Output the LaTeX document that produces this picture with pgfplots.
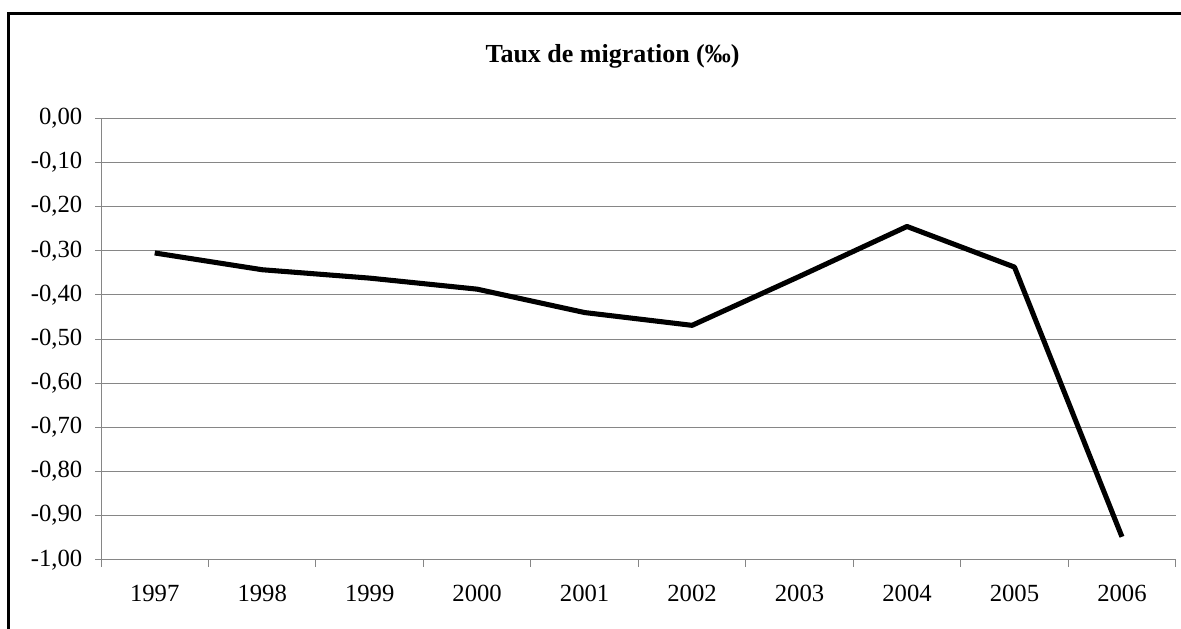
\documentclass[border=0pt]{standalone}
\usepackage{pgfplots}
\pgfplotsset{compat=1.18}
\usepackage{fontspec}
\setmainfont{Liberation Serif}
\definecolor{gridgray}{RGB}{134,134,134}
\begin{document}
\begin{tikzpicture}
\useasboundingbox (0,0) rectangle (885.75pt,471pt);
\draw[line width=2.1pt] (6.2pt,-10pt) -- (6.2pt,460.65pt) -- (900pt,460.65pt);
\node[font=\bfseries\fontsize{19.5}{23}\selectfont] at (459.4pt,429pt) {Taux de migration (‰)};
\begin{axis}[
  at={(75.75pt,51.2pt)}, anchor=south west,
  scale only axis, width=806pt, height=331.05pt,
  xmin=0.5, xmax=10.5, ymin=-1, ymax=0,
  axis x line=bottom, axis y line=left,
  axis line style={-, draw=gridgray, line width=0.75pt},
  xtick={1,2,3,4,5,6,7,8,9,10},
  xticklabels={1997,1998,1999,2000,2001,2002,2003,2004,2005,2006},
  minor xtick={0.5,1.5,2.5,3.5,4.5,5.5,6.5,7.5,8.5,9.5,10.5},
  major x tick style={draw=none},
  minor x tick style={draw=gridgray, line width=0.75pt},
  ytick={-1,-0.9,-0.8,-0.7,-0.6,-0.5,-0.4,-0.3,-0.2,-0.1,0},
  y tick style={draw=gridgray, line width=0.75pt},
  tick align=outside,
  major tick length=4.5pt, minor tick length=5.25pt,
  ymajorgrids=true,
  grid style={draw=gridgray, line width=0.75pt},
  ticklabel style={font=\fontsize{18.5}{22}\selectfont},
  xticklabel style={yshift=-11pt},
  yticklabel style={xshift=-6pt},
  yticklabel style={/pgf/number format/.cd, fixed, fixed zerofill, precision=2, use comma, assume math mode=true},
]
\addplot[black, line width=3.8pt, line join=round] coordinates {
(1,-0.305) (2,-0.343) (3,-0.362) (4,-0.387) (5,-0.440) (6,-0.469) (7,-0.358) (8,-0.245) (9,-0.337) (10,-0.948)
};
\end{axis}
\end{tikzpicture}
\end{document}
